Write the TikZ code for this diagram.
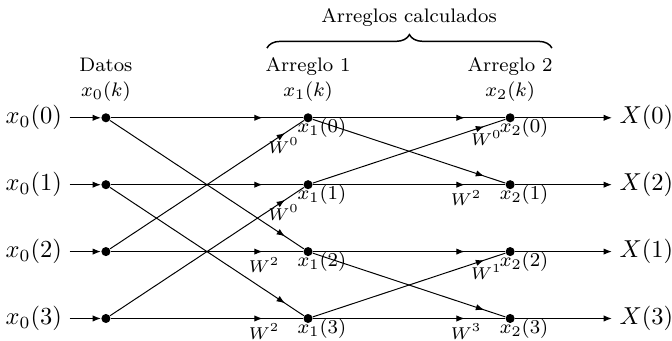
\documentclass[tikz,border=0pt]{standalone}
\usepackage{amsmath}
\usetikzlibrary{arrows.meta,calc,decorations.markings,decorations.pathreplacing}

\begin{document}
\begin{tikzpicture}[
  >={Latex[length=3.4pt,width=2.6pt]},
  dot/.style={circle,fill,inner sep=0pt,minimum size=1.3mm},
  hflow/.style={postaction={decorate},
    decoration={markings,mark=at position -0.58cm with {\arrow{Latex[length=3.4pt,width=2.6pt]}}}},
  dflow/.style={postaction={decorate},
    decoration={markings,mark=at position -0.32cm with {\arrow{Latex[length=3.4pt,width=2.6pt]}}}},
  io/.style={inner sep=3pt},
  head/.style={font=\footnotesize,anchor=base},
  sub/.style={font=\footnotesize,anchor=base},
  wt/.style={font=\scriptsize}]
\useasboundingbox (0,0) rectangle (9.643,-4.893);

% columns of the butterfly
\node[dot] (a0) at (1.52,-1.69) {};
\node[dot] (a1) at (1.52,-2.65) {};
\node[dot] (a2) at (1.52,-3.61) {};
\node[dot] (a3) at (1.52,-4.57) {};
\node[dot] (b0) at (4.42,-1.69) {};
\node[dot] (b1) at (4.42,-2.65) {};
\node[dot] (b2) at (4.42,-3.61) {};
\node[dot] (b3) at (4.42,-4.57) {};
\node[dot] (c0) at (7.32,-1.69) {};
\node[dot] (c1) at (7.32,-2.65) {};
\node[dot] (c2) at (7.32,-3.61) {};
\node[dot] (c3) at (7.32,-4.57) {};

% inputs and outputs
\node[io,anchor=east] (in0) at (1.0,-1.69) {$x_0(0)$};
\node[io,anchor=east] (in1) at (1.0,-2.65) {$x_0(1)$};
\node[io,anchor=east] (in2) at (1.0,-3.61) {$x_0(2)$};
\node[io,anchor=east] (in3) at (1.0,-4.57) {$x_0(3)$};
\node[io,anchor=west] (out0) at (8.78,-1.69) {$X(0)$};
\node[io,anchor=west] (out1) at (8.78,-2.65) {$X(2)$};
\node[io,anchor=west] (out2) at (8.78,-3.61) {$X(1)$};
\node[io,anchor=west] (out3) at (8.78,-4.57) {$X(3)$};

% headings
\node[head] (dat) at (1.52,-1.02) {Datos};
\node[head] (arr1) at (4.42,-1.02) {Arreglo 1};
\node[head] (arr2) at (7.32,-1.02) {Arreglo 2};
\node[head] (k0) at (1.52,-1.39) {$x_0(k)$};
\node[head] (k1) at (4.42,-1.39) {$x_1(k)$};
\node[head] (k2) at (7.32,-1.39) {$x_2(k)$};
\coordinate (bl) at (3.83,-0.69);
\coordinate (br) at (7.92,-0.69);
\draw[semithick,decorate,decoration={brace,amplitude=5.5pt}] (bl) -- (br);
\node[head] (calc) at (5.87,-0.33) {Arreglos calculados};

% node names
\node[sub] at ($(b0)+(0.2,-0.215)$) {$x_1(0)$};
\node[sub] at ($(b1)+(0.2,-0.215)$) {$x_1(1)$};
\node[sub] at ($(b2)+(0.2,-0.215)$) {$x_1(2)$};
\node[sub] at ($(b3)+(0.2,-0.215)$) {$x_1(3)$};
\node[sub] at ($(c0)+(0.2,-0.215)$) {$x_2(0)$};
\node[sub] at ($(c1)+(0.2,-0.215)$) {$x_2(1)$};
\node[sub] at ($(c2)+(0.2,-0.215)$) {$x_2(2)$};
\node[sub] at ($(c3)+(0.2,-0.215)$) {$x_2(3)$};

% twiddle factors
\node[wt] at ($(b0)+(-0.35,-0.40)$) {$W^0$};
\node[wt] at ($(b1)+(-0.35,-0.40)$) {$W^0$};
\node[wt] at ($(b2)+(-0.63,-0.19)$) {$W^2$};
\node[wt] at ($(b3)+(-0.63,-0.19)$) {$W^2$};
\node[wt] at ($(c0)+(-0.34,-0.29)$) {$W^0$};
\node[wt] at ($(c1)+(-0.63,-0.19)$) {$W^2$};
\node[wt] at ($(c2)+(-0.34,-0.29)$) {$W^1$};
\node[wt] at ($(c3)+(-0.63,-0.19)$) {$W^3$};

\draw[->] (in0) -- (a0);
\draw[->] (in1) -- (a1);
\draw[->] (in2) -- (a2);
\draw[->] (in3) -- (a3);

% first stage
\draw[hflow] (a0) -- (b0);
\draw[hflow] (a1) -- (b1);
\draw[hflow] (a2) -- (b2);
\draw[hflow] (a3) -- (b3);
\draw[dflow] (a0) -- (b2);
\draw[dflow] (a1) -- (b3);
\draw[dflow] (a2) -- (b0);
\draw[dflow] (a3) -- (b1);

% second stage
\draw[hflow] (b0) -- (c0);
\draw[hflow] (b1) -- (c1);
\draw[hflow] (b2) -- (c2);
\draw[hflow] (b3) -- (c3);
\draw[dflow] (b0) -- (c1);
\draw[dflow] (b1) -- (c0);
\draw[dflow] (b2) -- (c3);
\draw[dflow] (b3) -- (c2);

\draw[->] (c0) -- (out0);
\draw[->] (c1) -- (out1);
\draw[->] (c2) -- (out2);
\draw[->] (c3) -- (out3);
\end{tikzpicture}
\end{document}
